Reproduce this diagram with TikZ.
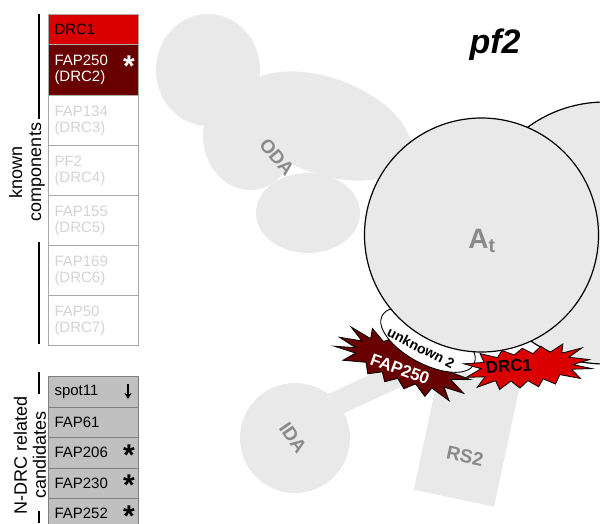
\documentclass[tikz,border=0pt]{standalone}
\usepackage{fontspec}
\setmainfont{Liberation Sans}
\usetikzlibrary{arrows.meta}

\definecolor{drcred}{RGB}{218,0,0}
\definecolor{fapred}{RGB}{104,0,0}
\definecolor{boxgrey}{RGB}{168,168,168}
\definecolor{fadetext}{RGB}{212,212,212}
\definecolor{candgrey}{RGB}{192,192,192}
\definecolor{candline}{RGB}{128,128,128}
\definecolor{partgrey}{RGB}{233,233,233}
\definecolor{lblgrey}{RGB}{138,138,138}

% jagged outline for the bound subunits
\newcommand{\burstpts}{(-74,-4) -- (-50,-9) -- (-66,-20) -- (-42,-15) -- (-44,-27) -- (-28,-17)
    -- (-18,-26) -- (-8,-17) -- (4,-25) -- (14,-17) -- (28,-24) -- (34,-15) -- (54,-22)
    -- (50,-10) -- (74,-10) -- (54,-2) -- (72,8) -- (50,9) -- (60,22) -- (38,15) -- (34,27)
    -- (20,17) -- (10,27) -- (0,18) -- (-12,27) -- (-18,17) -- (-32,25) -- (-38,13)
    -- (-62,20) -- (-52,7) -- (-76,8) -- (-54,1) -- cycle}

\begin{document}
\begin{tikzpicture}[x=1pt,y=-1pt,
    cell/.style={draw=boxgrey, line width=1pt, anchor=north west, text width=78pt,
        inner xsep=6pt, inner ysep=0pt, align=left, font=\fontsize{15}{16}\selectfont},
    cand/.style={cell, draw=candline, fill=candgrey, minimum height=30.5pt},
    sym/.style={inner sep=0pt, anchor=base, font=\bfseries\fontsize{30}{30}\selectfont},
    bracket/.style={line width=1.5pt},
    side/.style={font=\fontsize{18}{19}\selectfont, align=center, rotate=90},
    part/.style={fill=partgrey},
    tag/.style={text=lblgrey, font=\bfseries\fontsize{19}{19}\selectfont},
    burst/.style={draw, line width=0.8pt, line join=miter},
    bursttext/.style={font=\bfseries\fontsize{17}{17}\selectfont, inner sep=0pt}]

    \useasboundingbox (0,0) rectangle (600,523);
    \clip (0,0) rectangle (600,523);

    % known components
    \foreach \n/\y/\h/\c/\t/\txt in {
        k1/14/30/drcred/black/DRC1,
        k2/44/51/fapred/white/{FAP250\\(DRC2)},
        k3/95/50/white/fadetext/{FAP134\\(DRC3)},
        k4/145/50/white/fadetext/{PF2\\(DRC4)},
        k5/195/50/white/fadetext/{FAP155\\(DRC5)},
        k6/245/50/white/fadetext/{FAP169\\(DRC6)},
        k7/295/50/white/fadetext/{FAP50\\(DRC7)}} {
        \node[cell, fill=\c, text=\t, minimum height=\h] (\n) at (48,\y) {\txt};
    }

    % candidates
    \foreach \n/\y/\txt in {c1/376/spot11, c2/406.5/FAP61, c3/437/FAP206,
        c4/467.5/FAP230, c5/498/FAP252} {
        \node[cand] (\n) at (48,\y) {\txt};
    }

    \node[sym, text=white] (s2) at (129,76) {*};
    \foreach \n/\y in {c3/465, c4/495.5, c5/526} {
        \node[sym] (s\n) at (129,\y) {*};
    }
    \coordinate (dtop) at (128,384);
    \coordinate (dbot) at (128,399);
    \draw[line width=1.6pt, -{Stealth[length=6pt, width=7pt]}] (dtop) -- (dbot);

    % brackets
    \draw[bracket] (39,14) -- (39,119);
    \draw[bracket] (39,242) -- (39,344);
    \draw[bracket] (39,372) -- (39,394);
    \draw[bracket] (39,511) -- (39,523);
    \node[side] (known) at (27,172) {known\\components};
    \node[side] (ndrc) at (30,455) {N-DRC related\\candidates};

    % ODA
    \fill[part] (208,70) ellipse [x radius=52, y radius=56];
    \fill[part] (250,135) ellipse [x radius=47, y radius=55];
    \fill[part, rotate around={-20:(325,126)}] (325,126) ellipse [x radius=90, y radius=48];
    \fill[part] (308,213) ellipse [x radius=52, y radius=40];

    \node[circle, draw, line width=1.2pt, fill=partgrey, minimum size=262, inner sep=0pt] (b) at (605,233) {};

    % IDA and RS2
    \coordinate (bandA) at (300,420);
    \coordinate (bandB) at (405,372);
    \draw[partgrey, line width=24pt] (bandA) -- (bandB);
    \node[circle, part, minimum size=110, inner sep=0pt] (ida) at (295,438) {};
    \node[part, minimum width=82, minimum height=125, rotate=-12, inner sep=0pt] (rs2) at (467,437) {};

    % FAP250 and unknown 2
    \begin{scope}[shift={(403,364)}, rotate=-20, xscale=0.93, yscale=0.85]
        \draw[burst, fill=fapred] \burstpts;
    \end{scope}
    \draw[line width=0.9pt, fill=white, rotate around={-28:(428,340)}] (428,340) ellipse [x radius=52, y radius=24];

    \node[circle, draw, line width=1.2pt, fill=partgrey, minimum size=234, inner sep=0pt] (a) at (481.5,235) {};

    % DRC1
    \begin{scope}[shift={(527,367)}, rotate=4, xscale=-0.85, yscale=0.76]
        \draw[burst, fill=drcred] \burstpts;
    \end{scope}

    % labels
    \node[bursttext, text=white, rotate=-20] (fap) at (400,369) {FAP250};
    \node[bursttext, rotate=3] (drc) at (509,366) {DRC1};
    \node[tag, rotate=-50] (odal) at (277,157) {ODA};
    \node[tag, rotate=-55] (idal) at (293,438) {IDA};
    \node[tag, rotate=-12] (rsl) at (465,456) {RS2};
    \node[text=lblgrey, font=\bfseries\fontsize{28}{28}\selectfont] (atl) at (482,241) {A\textsubscript{t}};
    \node[font=\bfseries\fontsize{14}{14}\selectfont, rotate=-27] (unk) at (421,348) {unknown 2};
    \node[font=\bfseries\itshape\fontsize{34}{34}\selectfont] (title) at (495,45) {pf2};

\end{tikzpicture}
\end{document}
